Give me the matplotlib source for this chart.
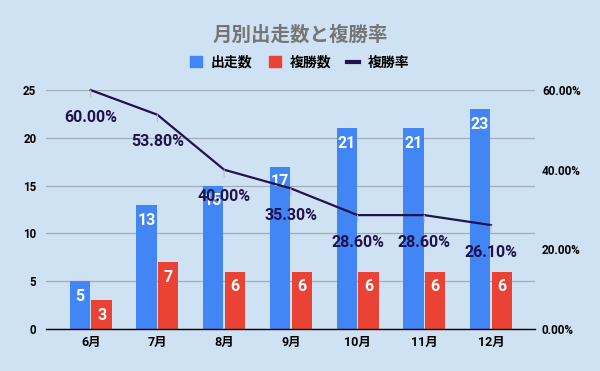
import matplotlib
matplotlib.use("Agg")
import matplotlib.pyplot as plt
import numpy as np
from matplotlib.lines import Line2D
from matplotlib.patches import Patch

months = ["6月", "7月", "8月", "9月", "10月", "11月", "12月"]
starts = [5, 13, 15, 17, 21, 21, 23]          # 出走数
places = [3, 7, 6, 6, 6, 6, 6]                # 複勝数
rate = [60.00, 53.80, 40.00, 35.30, 28.60, 28.60, 26.10]   # 複勝率 (%)

BG = "#cfe2f3"
BLUE, RED, NAVY = "#4285f4", "#ea4335", "#20124d"
GRID = "#a3adb8"
FAM = ["Roboto", "Noto Sans CJK JP", "DejaVu Sans"]

plt.rcParams["font.family"] = FAM

fig = plt.figure(figsize=(6, 3.71), dpi=100, facecolor=BG)
ax = fig.add_axes([0.0767, 0.1132, 0.815, 0.644])
ax.set_facecolor(BG)
ax2 = ax.twinx()

x = np.arange(len(months))
w = 0.305
b1 = ax.bar(x - 0.163, starts, w, color=BLUE, zorder=2)
b2 = ax.bar(x + 0.163, places, w, color=RED, zorder=2)
for bars in (b1, b2):
    for r in bars:
        ax.annotate(f"{int(r.get_height())}", (r.get_x() + r.get_width() / 2, r.get_height()),
                    xytext=(0, -11), textcoords="offset points", ha="center", va="center",
                    color="white", fontsize=11.5, fontweight="bold", zorder=3)

ax.set_xlim(-0.67, 6.66)
ax.set_ylim(0, 25)
ax.set_yticks([0, 5, 10, 15, 20, 25])
ax.grid(axis="y", color=GRID, lw=0.9, zorder=0)
ax.set_axisbelow(True)
for s in ("top", "right", "left"):
    ax.spines[s].set_visible(False)
ax.spines["bottom"].set_color("black")
ax.spines["bottom"].set_linewidth(1.0)
ax.set_xticks(x)
ax.set_xticklabels(months, fontsize=9, fontweight="bold")
ax.tick_params(axis="x", length=0, pad=5)
ax.tick_params(axis="y", length=0, pad=7, labelsize=8.3)
for lab in ax.get_yticklabels():
    lab.set_fontweight("bold")

ax2.plot(x, rate, color=NAVY, lw=1.6, zorder=4, clip_on=False)
ax2.set_ylim(0, 60)
ax2.set_yticks([0, 20, 40, 60])
ax2.set_yticklabels([f"{v:.2f}%" for v in [0, 20, 40, 60]], fontsize=8.5, fontweight="bold")
ax2.tick_params(axis="y", length=0, pad=5)
for s in ax2.spines.values():
    s.set_visible(False)
for xi, v in zip(x, rate):
    ax2.annotate(f"{v:.2f}%", (xi, v), xytext=(0, -19.5), textcoords="offset points",
                 ha="center", va="center", fontsize=11.5, fontweight="semibold", color=NAVY, zorder=5,
                 arrowprops=dict(arrowstyle="-", color="#b5bec8", lw=0.8, shrinkA=7, shrinkB=0))

fig.text(0.5, 0.905, "月別出走数と複勝率", ha="center", va="center",
         fontsize=14, fontweight="bold", color="#757575")
handles = [Patch(color=BLUE, label="出走数"), Patch(color=RED, label="複勝数"),
           Line2D([], [], color=NAVY, lw=3, label="複勝率")]
fig.legend(handles=handles, loc="center", bbox_to_anchor=(0.5, 0.831), ncol=3, frameon=False,
           prop=dict(family=FAM, size=10, weight="bold"), handlelength=0.86, handleheight=0.86,
           columnspacing=1.15, handletextpad=0.65)

fig.savefig("out.png", dpi=100, facecolor=BG)
